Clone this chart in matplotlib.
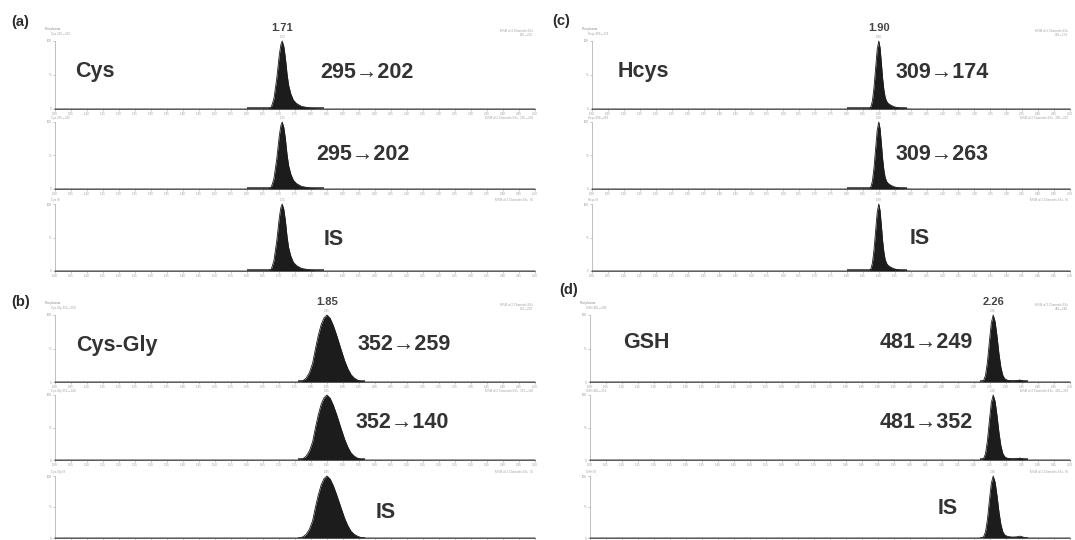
import matplotlib
matplotlib.use("Agg")
import matplotlib.pyplot as plt
from matplotlib.ticker import MultipleLocator, FixedLocator, FixedFormatter, FormatStrFormatter

plt.rcParams["font.family"] = ["Liberation Sans", "DejaVu Sans"]

# ---------------------------------------------------------------- data
time_range = (1.00, 2.50)
retention_times = [1.71, 1.85, 1.90, 2.26]
compounds = ["Cys", "Cys-Gly", "Hcys", "GSH"]
panel_letters = ["(a)", "(b)", "(c)", "(d)"]

cys_transitions = ["295→202", "295→202", "IS"]
cysgly_transitions = ["352→259", "352→140", "IS"]
hcys_transitions = ["309→174", "309→263", "IS"]
gsh_transitions = ["481→249", "481→352", "IS"]

# chromatogram traces: retention time (min) and relative abundance (%)
cys_time = [1.00, 1.60, 1.668, 1.676, 1.684, 1.693, 1.701, 1.706, 1.71, 1.715,
            1.72, 1.725, 1.73, 1.737, 1.745, 1.755, 1.77, 1.79, 1.81, 1.83, 2.50]
cys_signal = [0, 0, 0, 3, 15, 45, 80, 95, 100, 92,
              75, 52, 35, 22, 13, 8, 4, 2, 0.5, 0, 0]

cysgly_time = [1.00, 1.765, 1.775, 1.785, 1.795, 1.805, 1.814, 1.823, 1.832, 1.841,
               1.85, 1.86, 1.87, 1.88, 1.893, 1.905, 1.915, 1.925, 1.935, 1.945,
               1.955, 1.97, 2.50]
cysgly_signal = [0, 0, 2, 6, 14, 28, 50, 70, 86, 96,
                 100, 95, 84, 70, 50, 32, 20, 11, 6, 3,
                 1, 0, 0]

hcys_time = [1.00, 1.87, 1.875, 1.88, 1.885, 1.89, 1.895, 1.90, 1.904, 1.908,
             1.912, 1.916, 1.92, 1.925, 1.93, 1.94, 1.95, 1.965, 1.98, 2.00, 2.50]
hcys_signal = [0, 0, 3, 12, 32, 60, 88, 100, 90, 68,
               45, 28, 17, 11, 8, 5, 3, 1.5, 0.5, 0, 0]

gsh_time = [1.00, 2.225, 2.23, 2.236, 2.242, 2.248, 2.254, 2.26, 2.266, 2.272,
            2.278, 2.284, 2.29, 2.296, 2.305, 2.32, 2.335, 2.343, 2.35, 2.36,
            2.37, 2.50]
gsh_signal = [0, 0, 2, 10, 30, 60, 88, 100, 90, 68,
              42, 22, 10, 5, 2.5, 1.5, 2, 3, 2, 0.5,
              0, 0]

# integrated baseline windows (min)
cys_window = [1.60, 1.84]
cysgly_window = [1.76, 1.97]
hcys_window = [1.80, 1.99]
gsh_window = [2.22, 2.37]

# ---------------------------------------------------------------- layout (pixels)
W, H = 1075, 540
fig = plt.figure(figsize=(W / 100, H / 100), dpi=100)
fig.patch.set_facecolor("white")


def rect(left, right, top, base):
    return [left / W, 1 - base / H, (right - left) / W, (base - top) / H]


def fxy(x, y):
    return x / W, 1 - y / H


layout = [
    dict(left=55, right=535, tops=[41, 122, 204], bases=[109, 189, 271],
         letter=(20, 22), name=(95, 72), labels=[(367, 72), (363, 155), (334, 239)]),
    dict(left=55, right=535, tops=[315, 395, 476], bases=[382, 460, 538],
         letter=(21, 302), name=(117, 345), labels=[(404, 345), (402, 423), (386, 513)]),
    dict(left=592, right=1070, tops=[41, 122, 204], bases=[109, 189, 271],
         letter=(561, 21), name=(643, 72), labels=[(942, 72), (942, 155), (920, 238)]),
    dict(left=590, right=1070, tops=[315, 395, 476], bases=[382, 460, 538],
         letter=(569, 290), name=(646, 342), labels=[(926, 342), (926, 423), (948, 509)]),
]
# bottom traces that sit on the lower figure edge carry no tick labels
unlabelled_axes = {(1, 2), (3, 2)}

traces = [(cys_time, cys_signal), (cysgly_time, cysgly_signal),
          (hcys_time, hcys_signal), (gsh_time, gsh_signal)]
transitions = [cys_transitions, cysgly_transitions, hcys_transitions, gsh_transitions]
windows = [cys_window, cysgly_window, hcys_window, gsh_window]

INK = "#1c1c1c"
LABEL = "#333333"
FAINT = "#9a9a9a"
TINY = 2.2

for p, lay in enumerate(layout):
    t, s = traces[p]
    rt = retention_times[p]
    for k in range(3):
        ax = fig.add_axes(rect(lay["left"], lay["right"], lay["tops"][k], lay["bases"][k]))
        ax.set_xlim(*time_range)
        ax.set_ylim(0, 100)
        ax.fill_between(t, s, 0, color=INK, lw=0, clip_on=False, zorder=3)
        ax.plot(t, s, color=INK, lw=0.6, clip_on=False, zorder=4)
        ax.plot(windows[p], [0.8, 0.8], color="#3a3a3a", lw=1.2, zorder=2,
                solid_capstyle="butt")

        for side in ("top", "right"):
            ax.spines[side].set_visible(False)
        ax.spines["left"].set_color("#b5b5b5")
        ax.spines["left"].set_linewidth(0.6)
        ax.spines["bottom"].set_color("#8c8c8c")
        ax.spines["bottom"].set_linewidth(0.7)

        ax.xaxis.set_major_locator(MultipleLocator(0.05))
        ax.xaxis.set_minor_locator(MultipleLocator(0.01))
        ax.xaxis.set_major_formatter(FormatStrFormatter("%.2f"))
        ax.tick_params(axis="x", which="major", labelsize=TINY, length=1.6, width=0.4,
                       colors=FAINT, pad=0.5)
        ax.tick_params(axis="x", which="minor", length=1.0, width=0.3, colors=FAINT)
        if (p, k) in unlabelled_axes:
            ax.tick_params(axis="x", labelbottom=False)
        ax.yaxis.set_major_locator(FixedLocator([0, 50, 100]))
        ax.yaxis.set_major_formatter(FixedFormatter(["0", "%", "100"]))
        ax.tick_params(axis="y", labelsize=TINY, length=1.5, width=0.4,
                       colors=FAINT, pad=0.8)
        ax.patch.set_alpha(0)

        # apex time, small, right above the peak
        ax.annotate(f"{rt:.2f}", xy=(rt, 100), xytext=(0, 1.2), textcoords="offset points",
                    ha="center", va="bottom", fontsize=TINY, color=FAINT,
                    annotation_clip=False)

        # acquisition headers
        top = lay["tops"][k]
        if k == 0:
            fig.text(*fxy(lay["left"] - 10, top - 12), "Rat plasma", fontsize=TINY,
                     color="#888888", ha="left", va="center")
            fig.text(*fxy(lay["left"] - 4, top - 7),
                     f"{compounds[p]} {transitions[p][k]}", fontsize=TINY,
                     color="#a0a0a0", ha="left", va="center")
            fig.text(*fxy(lay["right"] - 2, top - 10), "MRM of 2 Channels ES+",
                     fontsize=TINY, color="#a0a0a0", ha="right", va="center")
            fig.text(*fxy(lay["right"] - 2, top - 6), transitions[p][k],
                     fontsize=TINY, color="#a0a0a0", ha="right", va="center")
        else:
            fig.text(*fxy(lay["left"] - 4, top - 4),
                     f"{compounds[p]} {transitions[p][k]}", fontsize=TINY,
                     color="#a0a0a0", ha="left", va="center")
            fig.text(*fxy(lay["right"] - 2, top - 4),
                     f"MRM of 2 Channels ES+  {transitions[p][k]}",
                     fontsize=TINY, color="#a0a0a0", ha="right", va="center")

        # transition / internal standard label
        fig.text(*fxy(*lay["labels"][k]), transitions[p][k], fontsize=15.5,
                 fontweight="bold", color=LABEL, ha="center", va="center")

        if k == 0:
            ax.annotate(f"{rt:.2f}", xy=(rt, 100), xytext=(0, 9.5),
                        textcoords="offset points", ha="center", va="center",
                        fontsize=8, fontweight="bold", color="#444444",
                        annotation_clip=False)

    fig.text(*fxy(*lay["name"]), compounds[p], fontsize=15.5, fontweight="bold",
             color=LABEL, ha="center", va="center")
    fig.text(*fxy(*lay["letter"]), panel_letters[p], fontsize=10.5, fontweight="bold",
             color="#2a2a2a", ha="center", va="center")

fig.savefig("out.png", dpi=100, facecolor="white")
